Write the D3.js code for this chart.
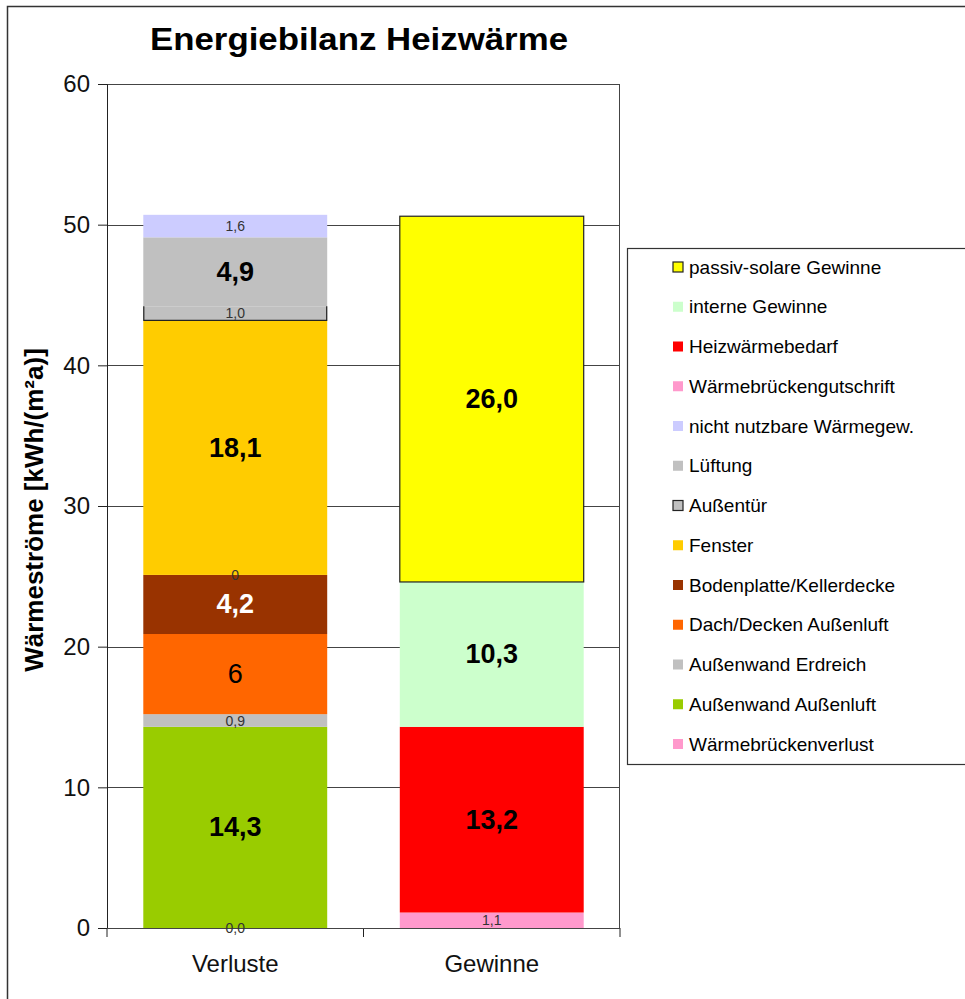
<!DOCTYPE html>
<html><head><meta charset="utf-8">
<script src="https://cdn.jsdelivr.net/npm/d3@7"></script>
<style>
html,body{margin:0;padding:0;background:#fff;}
svg{display:block;font-family:"Liberation Sans",Arial,sans-serif;}
</style></head>
<body>
<script>
// ---- data ----
const categories = ["Verluste", "Gewinne"];
const yTicks = [0, 10, 20, 30, 40, 50, 60];

// Verluste stack, bottom to top
const verlusteNames  = ["Wärmebrückenverlust", "Außenwand Außenluft", "Außenwand Erdreich", "Dach/Decken Außenluft", "Bodenplatte/Kellerdecke", "", "Fenster", "Außentür", "Lüftung", "nicht nutzbare Wärmegew."];
const verlusteValues = [0.0, 14.3, 0.9, 5.7, 4.2, 0, 18.1, 1.0, 4.9, 1.6];
const verlusteLabels = ["0,0", "14,3", "0,9", "6", "4,2", "0", "18,1", "1,0", "4,9", "1,6"];

// Gewinne stack, bottom to top
const gewinneNames  = ["Wärmebrückengutschrift", "Heizwärmebedarf", "interne Gewinne", "passiv-solare Gewinne"];
const gewinneValues = [1.1, 13.2, 10.3, 26.0];
const gewinneLabels = ["1,1", "13,2", "10,3", "26,0"];

// legend order, top to bottom
const legendNames = ["passiv-solare Gewinne", "interne Gewinne", "Heizwärmebedarf", "Wärmebrückengutschrift", "nicht nutzbare Wärmegew.", "Lüftung", "Außentür", "Fenster", "Bodenplatte/Kellerdecke", "Dach/Decken Außenluft", "Außenwand Erdreich", "Außenwand Außenluft", "Wärmebrückenverlust"];

// ---- styles ----
const colors = {
  "Wärmebrückenverlust": "#FF99CC", "Außenwand Außenluft": "#99CC00", "Außenwand Erdreich": "#C0C0C0",
  "Dach/Decken Außenluft": "#FF6600", "Bodenplatte/Kellerdecke": "#993300", "": "none",
  "Fenster": "#FFCC00", "Außentür": "#C0C0C0", "Lüftung": "#C0C0C0", "nicht nutzbare Wärmegew.": "#CCCCFF",
  "Wärmebrückengutschrift": "#FF99CC", "Heizwärmebedarf": "#FF0000", "interne Gewinne": "#CCFFCC",
  "passiv-solare Gewinne": "#FFFF00"
};
const bordered = {"Außentür": "#222", "passiv-solare Gewinne": "#222"};
const bigFont = {"14,3":1, "6":1, "4,2":1, "18,1":1, "4,9":1, "13,2":1, "10,3":1, "26,0":1};
const boldLabel = {"14,3":1, "4,2":1, "18,1":1, "4,9":1, "13,2":1, "10,3":1, "26,0":1};
const whiteLabel = {"4,2":1};
const FONT = "'Liberation Sans', Arial, sans-serif";

const W = 965, H = 999;
const svg = d3.select("body").append("svg").attr("width", W).attr("height", H);

// outer chart border
svg.append("rect").attr("x", 7.5).attr("y", 6.5).attr("width", 1000).attr("height", 1100)
  .attr("fill", "#fff").attr("stroke", "#333").attr("stroke-width", 1.5);

const plot = {left: 107, right: 620, top: 84, bottom: 928};
const y = d3.scaleLinear().domain([0, 60]).range([plot.bottom, plot.top]);
const x = d3.scaleBand().domain(categories).range([plot.left, plot.right]).paddingInner(0.283).paddingOuter(0.1415);

// gridlines
svg.append("g").selectAll("line").data(yTicks.filter(d => d > 0)).join("line")
  .attr("x1", plot.left).attr("x2", plot.right)
  .attr("y1", d => Math.round(y(d)) + 0.5).attr("y2", d => Math.round(y(d)) + 0.5)
  .attr("stroke", "#444").attr("stroke-width", 1);

// stacks
function buildStack(cat, names, values, labels) {
  const ends = d3.cumsum(values);
  return names.map((n, i) => ({cat, name: n, y0: ends[i] - values[i], y1: ends[i], label: labels[i]}));
}
const segs = buildStack("Verluste", verlusteNames, verlusteValues, verlusteLabels)
  .concat(buildStack("Gewinne", gewinneNames, gewinneValues, gewinneLabels));
const visible = segs.filter(d => d.y1 > d.y0);

const gBars = svg.append("g");
gBars.selectAll("rect").data(visible).join("rect")
  .attr("x", d => x(d.cat)).attr("width", x.bandwidth())
  .attr("y", d => y(d.y1)).attr("height", d => y(d.y0) - y(d.y1))
  .attr("fill", d => colors[d.name])
  .attr("stroke", d => d.name === "passiv-solare Gewinne" ? bordered[d.name] : "none")
  .attr("stroke-width", 1.2);
// open-top border for Außentür (its top edge is hidden under Lüftung)
gBars.selectAll("path").data(visible.filter(d => d.name === "Außentür")).join("path")
  .attr("d", d => {
    const x0 = x(d.cat) + 0.5, x1 = x(d.cat) + x.bandwidth() - 0.5;
    const yt = y(d.y1), yb = y(d.y0);
    return `M${x0},${yt}V${yb}H${x1}V${yt}`;
  })
  .attr("fill", "none").attr("stroke", d => bordered[d.name]).attr("stroke-width", 1.2);

// plot frame
svg.append("rect").attr("x", plot.left + 0.5).attr("y", plot.top + 0.5)
  .attr("width", plot.right - plot.left - 1).attr("height", plot.bottom - plot.top)
  .attr("fill", "none").attr("stroke", "#444").attr("stroke-width", 1);

// y axis
const yAxis = svg.append("g").attr("transform", `translate(${plot.left},0)`)
  .call(d3.axisLeft(y).tickValues(yTicks).tickSize(9).tickPadding(8).tickFormat(d3.format("d")));
yAxis.select(".domain").attr("stroke", "#222");
yAxis.selectAll(".tick line").attr("stroke", "#222");
yAxis.selectAll("text").attr("font-size", 24).attr("fill", "#111").attr("font-family", FONT);

// x axis
const xAxis = svg.append("g").attr("transform", `translate(0,${plot.bottom})`)
  .call(d3.axisBottom(x).tickSize(0).tickPadding(27));
xAxis.select(".domain").remove();
xAxis.selectAll("text").attr("font-size", 24).attr("fill", "#111").attr("font-family", FONT);
// category separator ticks
svg.append("g").selectAll("line").data([plot.left, (plot.left + plot.right) / 2, plot.right]).join("line")
  .attr("x1", d => d).attr("x2", d => d).attr("y1", plot.bottom).attr("y2", plot.bottom + 9)
  .attr("stroke", "#222");
svg.append("line").attr("x1", plot.left).attr("x2", plot.right)
  .attr("y1", plot.bottom + 0.5).attr("y2", plot.bottom + 0.5).attr("stroke", "#444");

// bar labels
svg.append("g").selectAll("text").data(segs).join("text")
  .attr("x", d => x(d.cat) + x.bandwidth() / 2)
  .attr("y", d => y((d.y0 + d.y1) / 2))
  .attr("text-anchor", "middle").attr("dominant-baseline", "central")
  .attr("font-size", d => bigFont[d.label] ? 27 : 14)
  .attr("font-weight", d => boldLabel[d.label] ? "bold" : "normal")
  .attr("fill", d => whiteLabel[d.label] ? "#fff" : (bigFont[d.label] ? "#000" : "#333"))
  .text(d => d.label);

// title
svg.append("text").attr("x", 359).attr("y", 50).attr("text-anchor", "middle")
  .attr("font-size", 32).attr("font-weight", "bold").attr("fill", "#000")
  .attr("textLength", 418).attr("lengthAdjust", "spacingAndGlyphs")
  .text("Energiebilanz Heizwärme");

// y title
svg.append("text").attr("transform", `translate(43,${(plot.top + plot.bottom) / 2 + 4}) rotate(-90)`)
  .attr("text-anchor", "middle").attr("font-size", 26).attr("font-weight", "bold").attr("fill", "#000")
  .text("Wärmeströme [kWh/(m²a)]");

// legend
const lg = svg.append("g");
lg.append("rect").attr("x", 627.5).attr("y", 248.5).attr("width", 400).attr("height", 516)
  .attr("fill", "#fff").attr("stroke", "#333").attr("stroke-width", 1.2);
const ly = d3.scalePoint().domain(legendNames).range([267, 744]);
const items = lg.selectAll("g.item").data(legendNames).join("g").attr("class", "item")
  .attr("transform", d => `translate(0,${ly(d)})`);
items.append("rect").attr("x", 673).attr("y", -5).attr("width", 10).attr("height", 10)
  .attr("fill", d => colors[d])
  .attr("stroke", d => bordered[d] || "none").attr("stroke-width", 1.2);
items.append("text").attr("x", 689).attr("y", 0).attr("dominant-baseline", "central")
  .attr("font-size", 19).attr("fill", "#000").text(d => d);
</script>
</body></html>
